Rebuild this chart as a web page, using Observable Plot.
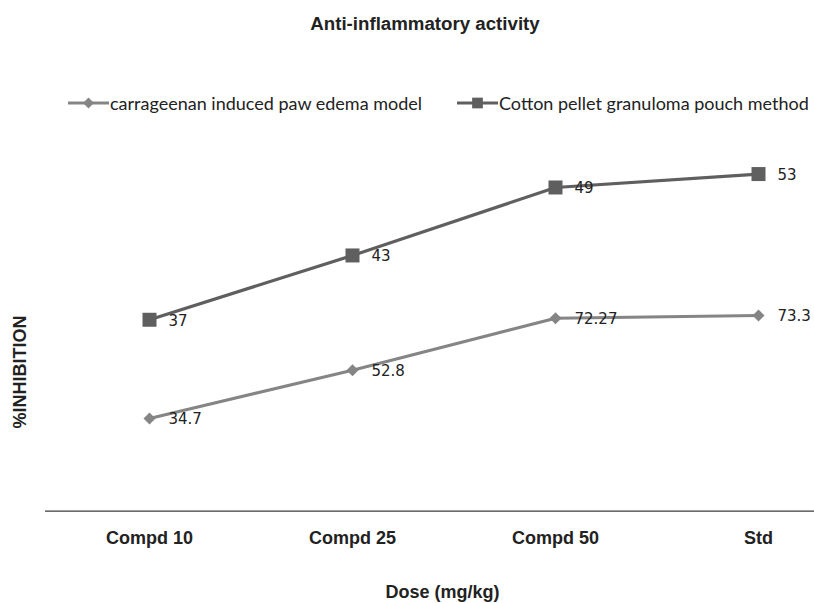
<!DOCTYPE html>
<html>
<head>
<meta charset="utf-8">
<script src="https://cdn.jsdelivr.net/npm/d3@7"></script>
<script src="https://cdn.jsdelivr.net/npm/@observablehq/plot@0.6"></script>
<style>
html, body { margin: 0; padding: 0; background: #fff; overflow: hidden; }
#wrap { position: relative; width: 814px; height: 603px; }
#chart { position: absolute; left: 0; top: 0; }
#title { position: absolute; top: 14px; left: 425px; transform: translateX(-50%);
  font: bold 18.7px "Liberation Sans", Arial, sans-serif; color: #222; white-space: nowrap; line-height: 19px; }
#ylabel { position: absolute; left: 20px; top: 372px; transform: translate(-50%, -50%) rotate(-90deg);
  font: bold 18px "Liberation Sans", Arial, sans-serif; color: #222; white-space: nowrap; line-height: 18px; }
.leg { position: absolute; top: 92px; height: 22px; display: flex; align-items: center;
  font: 18px Lato, "Noto Sans", sans-serif; color: #222; white-space: nowrap; }
.leg svg { display: block; }
</style>
</head>
<body>
<div id="wrap">
  <div id="chart"></div>
  <div id="title"></div>
  <div id="ylabel"></div>
  <div id="legend"></div>
</div>
<script>
// ---- data ----
const titleText = "Anti-inflammatory activity";
const xLabel = "Dose (mg/kg)";
const yLabel = "%INHIBITION";
const doses = ["Compd 10", "Compd 25", "Compd 50", "Std"];
const seriesNames = ["carrageenan induced paw edema model", "Cotton pellet granuloma pouch method"];
const carrageenan = [34.7, 52.8, 72.27, 73.3];
const cotton = [37, 43, 49, 53];
const seriesColors = ["#858585", "#5f5f5f"];
const seriesSymbols = ["diamond2", "square"];

const data = [
  ...doses.map((d, i) => ({dose: d, value: carrageenan[i], series: seriesNames[0]})),
  ...doses.map((d, i) => ({dose: d, value: cotton[i], series: seriesNames[1]}))
];

document.getElementById("title").textContent = titleText;
document.getElementById("ylabel").textContent = yLabel;

// ---- legend (HTML) ----
const legendLefts = [68, 457];
seriesNames.forEach((name, i) => {
  const item = document.createElement("div");
  item.className = "leg";
  item.style.left = legendLefts[i] + "px";
  const ns = "http://www.w3.org/2000/svg";
  const svg = document.createElementNS(ns, "svg");
  svg.setAttribute("width", 42); svg.setAttribute("height", 22);
  const line = document.createElementNS(ns, "line");
  line.setAttribute("x1", 0); line.setAttribute("x2", 41);
  line.setAttribute("y1", 11); line.setAttribute("y2", 11);
  line.setAttribute("stroke", seriesColors[i]); line.setAttribute("stroke-width", 3);
  svg.appendChild(line);
  const sym = document.createElementNS(ns, "path");
  const s = i === 0 ? d3.symbol(d3.symbolDiamond2, 75) : d3.symbol(d3.symbolSquare, 115);
  sym.setAttribute("d", s());
  sym.setAttribute("transform", "translate(20.5,11)");
  sym.setAttribute("fill", seriesColors[i]);
  svg.appendChild(sym);
  item.appendChild(svg);
  const span = document.createElement("span");
  span.textContent = name;
  item.appendChild(span);
  document.getElementById("legend").appendChild(item);
});

// ---- chart ----
const stackOpts = {x: "dose", y: "value", z: "series"};
const chart = Plot.plot({
  width: 814,
  height: 603,
  marginLeft: 45,
  marginRight: 0,
  marginTop: 137,
  marginBottom: 92.4,
  style: {background: "transparent", fontFamily: "'Liberation Sans', Arial, sans-serif", overflow: "visible"},
  x: {type: "point", domain: doses, padding: 0, insetLeft: 103, insetRight: 56, label: null},
  y: {domain: [0, 140], axis: null},
  color: {domain: seriesNames, range: seriesColors},
  symbol: {domain: seriesNames, range: seriesSymbols},
  marks: [
    Plot.ruleY([0], {stroke: "#3c3c3c", strokeWidth: 1.3}),
    Plot.axisX({tickSize: 0, tickPadding: 20, fontSize: 18, fontWeight: "bold", fill: "#222", label: null}),
    Plot.text([xLabel], {text: d => d, frameAnchor: "bottom", dx: 12.5, dy: 87, fontSize: 18, fontWeight: "bold", fill: "#222"}),
    Plot.lineY(data, Plot.stackY2({...stackOpts, stroke: "series", strokeWidth: 3.2})),
    Plot.dot(data, Plot.filter(d => d.series === seriesNames[0],
      Plot.stackY2({...stackOpts, symbol: "series", fill: "series", r: 5.4}))),
    Plot.dot(data, Plot.filter(d => d.series === seriesNames[1],
      Plot.stackY2({...stackOpts, symbol: "series", fill: "series", r: 7.9}))),
    Plot.text(data, Plot.stackY2({...stackOpts, text: "value", textAnchor: "start", dx: 19, dy: 1,
      fontSize: 15, fontFamily: "'DejaVu Sans', sans-serif", fill: "#222"}))
  ]
});
document.getElementById("chart").appendChild(chart);
</script>
</body>
</html>
